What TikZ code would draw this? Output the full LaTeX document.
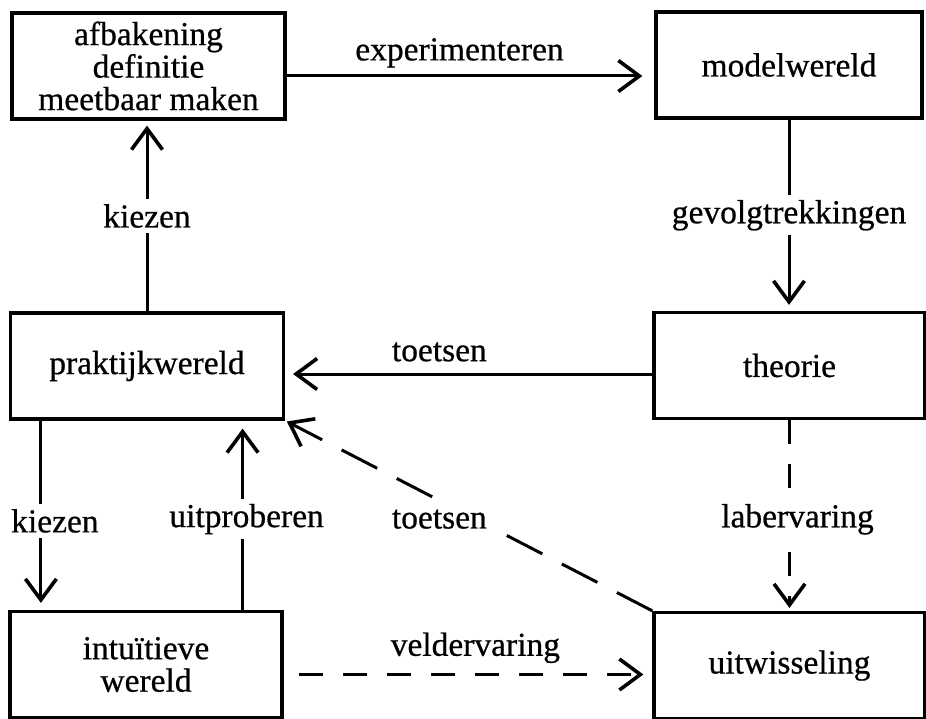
\documentclass[tikz,border=0pt]{standalone}
\usepackage{fontspec}
\setmainfont{Liberation Serif}[UprightFeatures={FakeBold=0.6}]
\usetikzlibrary{arrows.meta}
\begin{document}
\begin{tikzpicture}[x=1pt,y=-1pt,
  txt/.style={font=\fontsize{33.5}{32.5}\selectfont},
  box/.style={txt, draw, line width=3.2pt, minimum width=273pt, minimum height=106pt, inner sep=0pt, align=center},
  arr/.style={line width=3pt, -{Straight Barb[length=21pt,width=31pt,line width=3.6pt]}},
  dsh/.style={arr, dash pattern=on 24pt off 20pt},
  ldsh/.style={arr, dash pattern=on 40pt off 22pt},
  lbl/.style={txt, inner sep=2pt},
  wlbl/.style={txt, fill=white, inner sep=5pt}
]
\useasboundingbox (0,0) rectangle (926,719);
\node[box] (afb) at (148.5,66) {afbakening\\definitie\\meetbaar maken};
\node[box, minimum width=266pt] (model) at (789,65) {modelwereld};
\node[box] (prakt) at (147,366) {praktijkwereld};
\node[box, minimum width=271pt] (theorie) at (789.5,365.5) {theorie};
\node[box, minimum width=272pt] (intu) at (146,664.5) {intuïtieve\\wereld};
\node[box, minimum width=271pt] (uitw) at (789.5,665.5) {uitwisseling};

% experimenteren
\draw[arr, shorten >=12pt] ([yshift=-10pt]afb.east) -- node[lbl, pos=.47, above=7pt, inner sep=0pt] {experimenteren} ([yshift=-10pt]afb.east -| model.west);
% kiezen (up)
\draw[arr, shorten >=5pt] (prakt.north) -- node[wlbl] {kiezen} (prakt.north |- afb.south);
% gevolgtrekkingen
\draw[arr, shorten >=6pt] (model.south) -- node[wlbl, inner xsep=0pt] {gevolgtrekkingen} (model.south |- theorie.north);
% toetsen
\draw[arr, shorten >=8pt] ([yshift=-8.5pt]theorie.west) -- node[lbl, pos=.58, above=11pt, inner sep=0pt] {toetsen} ([yshift=-8.5pt]theorie.west -| prakt.east);
% labervaring
\draw[dsh, shorten >=3pt] (theorie.south) -- node[wlbl, xshift=8pt, pos=.52] {labervaring} (theorie.south |- uitw.north);
% kiezen (down)
\draw[arr, shorten >=7pt] ([xshift=32pt]prakt.south west) -- node[wlbl, xshift=14pt, pos=.53] {kiezen} ([xshift=32pt]prakt.south west |- intu.north);
% uitproberen
\draw[arr, shorten >=8pt] ([xshift=-41pt]intu.north east) -- node[wlbl, xshift=4pt, pos=.48] {uitproberen} ([xshift=-41pt]intu.north east |- prakt.south);
% toetsen (diagonal)
\draw[ldsh, shorten >=2pt] (uitw.north west) -- node[wlbl, xshift=-36pt, pos=.482, inner xsep=7pt, inner ysep=6pt] {toetsen} (prakt.south east);
% veldervaring
\draw[dsh, shorten <=15pt, shorten >=9pt] ([yshift=-10pt]intu.east) -- node[lbl, pos=.52, above=10pt, inner sep=0pt] {veldervaring} ([yshift=-10pt]intu.east -| uitw.west);
\end{tikzpicture}
\end{document}
